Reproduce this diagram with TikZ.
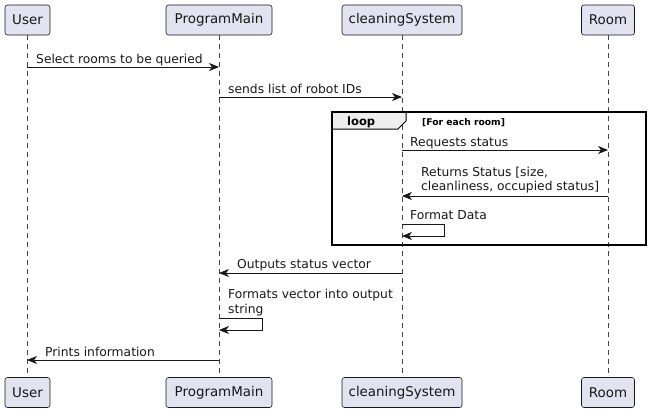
\documentclass[tikz,border=0pt]{standalone}
\usepackage{fontspec}
\setmainfont{DejaVu Sans}
\usetikzlibrary{arrows.meta}
\definecolor{partfill}{HTML}{E2E2F0}
\definecolor{ink}{HTML}{181818}
\definecolor{tabfill}{HTML}{EEEEEE}
\tikzset{
  part/.style={draw=ink, fill=partfill, rounded corners=2.5pt, line width=0.6pt,
    minimum height=30pt, inner xsep=5pt, inner ysep=0pt, font=\fontsize{13.4}{15}\selectfont, text=ink},
  life/.style={draw=ink!80, line width=0.5pt, dash pattern=on 5pt off 4pt},
  msg/.style={draw=ink, line width=0.8pt, -{Stealth[length=10pt,width=8pt,inset=3pt]}},
  mtext/.style={anchor=base west, inner sep=0pt, font=\fontsize{12.3}{14.5}\selectfont, text=ink, align=left},
  frameline/.style={draw=black, line width=1.5pt},
}
\begin{document}
\begin{tikzpicture}[x=1pt,y=-1pt]
\useasboundingbox (0,0) rectangle (650,413);
% participants top
\node[part, minimum width=45pt] (uT) at (27.5,20) {User};
\node[part, minimum width=106pt] (pT) at (219,20) {ProgramMain};
\node[part, minimum width=120pt] (cT) at (402,20) {cleaningSystem};
\node[part, minimum width=53pt] (rT) at (608,20) {Room};
% participants bottom
\node[part, minimum width=45pt] (uB) at (27.5,392.5) {User};
\node[part, minimum width=106pt] (pB) at (219,392.5) {ProgramMain};
\node[part, minimum width=120pt] (cB) at (402,392.5) {cleaningSystem};
\node[part, minimum width=53pt] (rB) at (608,392.5) {Room};
% lifelines
\draw[life] (27,35) -- (27,377);
\draw[life] (219,35) -- (219,377);
\draw[life] (402,35) -- (402,377);
\draw[life] (608,35) -- (608,377);
% loop frame
\draw[frameline, fill=tabfill, line width=1pt] (332,112) -- (406,112) -- (406,121) -- (398,129) -- (332,129) -- cycle;
\draw[frameline] (332,112) rectangle (646,245);
\node[anchor=base west, inner sep=0pt, font=\bfseries\fontsize{11.5}{13}\selectfont] (looplbl) at (347,125) {loop};
\node[anchor=base west, inner sep=0pt, font=\bfseries\fontsize{9.2}{11}\selectfont] (guard) at (422,125) {[For each room]};
% coordinates on lifelines
\coordinate (u1) at (27,67);  \coordinate (p1) at (219,67);
\coordinate (p2) at (219,97); \coordinate (c2) at (402,97);
\coordinate (c3) at (402,150); \coordinate (r3) at (608,150);
\coordinate (r4) at (608,196); \coordinate (c4) at (402,196);
\coordinate (c5a) at (402,224); \coordinate (c5b) at (402,236);
\coordinate (c6) at (402,273); \coordinate (p6) at (219,273);
\coordinate (p7a) at (219,318); \coordinate (p7b) at (219,330);
\coordinate (p8) at (219,360); \coordinate (u8) at (27,360);
% messages
\draw[msg] (u1) -- (p1);
\node[mtext] (t1) at (36,63) {Select rooms to be queried};
\draw[msg] (p2) -- (c2);
\node[mtext] (t2) at (228,93) {sends list of robot IDs};
\draw[msg] (c3) -- (r3);
\node[mtext] (t3) at (410,146) {Requests status};
\draw[msg] (r4) -- (c4);
\node[mtext] (t4) at (421,190.5) {Returns Status [size,\\cleanliness, occupied status]};
\draw[msg] (c5a) -- (444,224) -- (444,236) -- (c5b);
\node[mtext] (t5) at (410,219) {Format Data};
\draw[msg] (c6) -- (p6);
\node[mtext] (t6) at (237,268) {Outputs status vector};
\draw[msg] (p7a) -- (262,318) -- (262,330) -- (p7b);
\node[mtext] (t7) at (228,313) {Formats vector into output\\string};
\draw[msg] (p8) -- (u8);
\node[mtext] (t8) at (45,356) {Prints information};
\end{tikzpicture}
\end{document}
